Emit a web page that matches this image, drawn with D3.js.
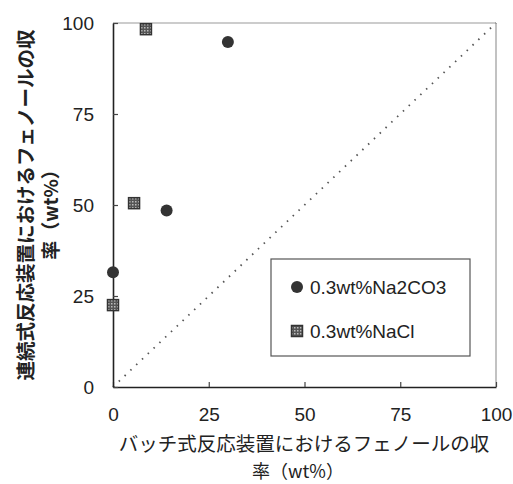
<!DOCTYPE html>
<html><head><meta charset="utf-8">
<script src="https://cdn.jsdelivr.net/npm/d3@7"></script>
<style>
body{margin:0;background:#fff;}
text{font-family:"Liberation Sans",Arial,sans-serif;fill:#222;}
.jp{font-family:"Noto Sans CJK JP",sans-serif;}
</style></head><body>
<svg id="c" width="513" height="484"></svg>
<script>
const xTicks = [0, 25, 50, 75, 100];
const yTicks = [0, 25, 50, 75, 100];
const seriesNames = ["0.3wt%Na2CO3", "0.3wt%NaCl"];
const na2co3X = [0, 14, 30];
const na2co3Y = [31.5, 48.5, 94.8];
const naclX = [0, 5.5, 8.6];
const naclY = [22.5, 50.5, 98.3];
const diagonal = [[0,0],[100,100]];
const xLabel1 = "バッチ式反応装置におけるフェノールの収";
const xLabel2 = "率（wt%）";
const yLabel1 = "連続式反応装置におけるフェノールの収";
const yLabel2 = "率（wt%）";

const svg = d3.select("#c");
const L = 113, R = 496, T = 23, B = 387;
const x = d3.scaleLinear().domain([0,100]).range([L,R]);
const y = d3.scaleLinear().domain([0,100]).range([B,T]);

const defs = svg.append("defs");
const pat = defs.append("pattern").attr("id","chk").attr("width",3).attr("height",3).attr("patternUnits","userSpaceOnUse");
pat.append("rect").attr("width",3).attr("height",3).attr("fill","#555");
pat.append("rect").attr("width",1.5).attr("height",1.5).attr("fill","#bbb");

// frame top/right gray
svg.append("line").attr("x1",L).attr("x2",R).attr("y1",T).attr("y2",T).attr("stroke","#999").attr("stroke-width",1.2);
svg.append("line").attr("x1",R).attr("x2",R).attr("y1",T).attr("y2",B).attr("stroke","#999").attr("stroke-width",1.2);

// diagonal dotted
svg.append("line")
  .attr("x1",x(diagonal[0][0])).attr("y1",y(diagonal[0][1]))
  .attr("x2",x(diagonal[1][0])).attr("y2",y(diagonal[1][1]))
  .attr("stroke","#555").attr("stroke-width",1.8).attr("stroke-dasharray","1.5,6.5");

// axes
const xAxis = d3.axisBottom(x).tickValues(xTicks).tickSizeInner(-5).tickSizeOuter(0).tickPadding(21);
const yAxis = d3.axisLeft(y).tickValues(yTicks).tickSizeInner(-5).tickSizeOuter(0).tickPadding(19);
const gx = svg.append("g").attr("transform",`translate(0,${B})`).call(xAxis);
const gy = svg.append("g").attr("transform",`translate(${L},0)`).call(yAxis);
[gx,gy].forEach(g=>{
  g.select(".domain").attr("stroke","#222").attr("stroke-width",1.6);
  g.selectAll(".tick line").attr("stroke","#444").attr("stroke-width",1.2);
  g.selectAll(".tick text").attr("font-size",19).attr("fill","#222")
   .attr("font-family","Liberation Sans, Arial, sans-serif");
});

// points
svg.append("g").selectAll("circle").data(na2co3X.map((d,i)=>[d,na2co3Y[i]])).join("circle")
  .attr("cx",d=>x(d[0])).attr("cy",d=>y(d[1])).attr("r",6).attr("fill","#333");
const s = 11;
svg.append("g").selectAll("rect").data(naclX.map((d,i)=>[d,naclY[i]])).join("rect")
  .attr("x",d=>x(d[0])-s/2).attr("y",d=>y(d[1])-s/2).attr("width",s).attr("height",s)
  .attr("fill","url(#chk)").attr("stroke","#333").attr("stroke-width",1.5);

// legend
const lg = svg.append("g");
lg.append("rect").attr("x",271).attr("y",259).attr("width",199).attr("height",97)
  .attr("fill","#fff").attr("stroke","#555").attr("stroke-width",1.2);
lg.append("circle").attr("cx",297).attr("cy",287).attr("r",6).attr("fill","#333");
lg.append("rect").attr("x",297-s/2).attr("y",331-s/2).attr("width",s).attr("height",s)
  .attr("fill","url(#chk)").attr("stroke","#333").attr("stroke-width",1.5);
lg.append("text").attr("x",310).attr("y",287).attr("dy","0.35em").attr("font-size",19).text(seriesNames[0]);
lg.append("text").attr("x",310).attr("y",331).attr("dy","0.35em").attr("font-size",19).text(seriesNames[1]);

// axis labels
svg.append("text").attr("class","jp").attr("x",304).attr("y",451).attr("text-anchor","middle")
  .attr("font-size",19.5).text(xLabel1);
svg.append("text").attr("class","jp").attr("x",298).attr("y",478).attr("text-anchor","middle")
  .attr("font-size",18).text(xLabel2);
svg.append("text").attr("class","jp").attr("transform","translate(33,205) rotate(-90)").attr("text-anchor","middle")
  .attr("font-size",19.5).attr("font-weight","bold").text(yLabel1);
svg.append("text").attr("class","jp").attr("transform","translate(58,210) rotate(-90)").attr("text-anchor","middle")
  .attr("font-size",19).attr("font-weight","bold").text(yLabel2);
</script></body></html>
